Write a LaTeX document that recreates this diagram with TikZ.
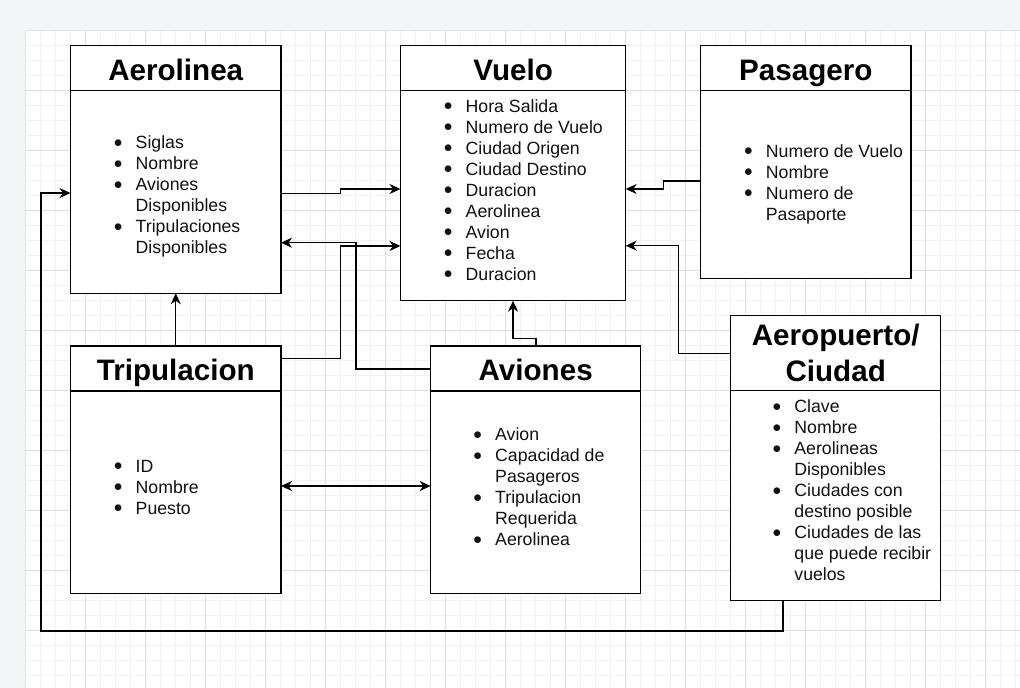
\documentclass[tikz,border=0pt]{standalone}
\usepackage{fontspec}
\setmainfont{Liberation Sans}
\usetikzlibrary{arrows.meta}
\definecolor{pagebg}{HTML}{F4F5F7}
\definecolor{gridminor}{HTML}{F1F1F1}
\definecolor{gridmajor}{HTML}{DEDEDE}
\definecolor{canvasedge}{HTML}{E2E3E6}
\definecolor{txt}{HTML}{111111}
\newcommand{\bl}{\makebox[10pt]{\raisebox{1.5pt}{$\bullet$}}}
\begin{document}
\begin{tikzpicture}[x=1pt,y=-1pt,
  box/.style={draw=black, fill=white, line width=1.3pt, inner sep=0pt, outer sep=0pt},
  hdr/.style={draw=black, line width=1.3pt},
  title/.style={font=\bfseries\fontsize{29.6}{36}\selectfont, text=black, inner sep=0pt},
  lst/.style={font=\fontsize{17.7}{21}\selectfont, text=txt, inner sep=0pt, anchor=base west},
  conn/.style={draw=black, line width=1.3pt, -{Stealth[length=11pt,width=10pt,inset=3.5pt]}},
  biconn/.style={draw=black, line width=1.3pt, {Stealth[length=11pt,width=10pt,inset=3.5pt]}-{Stealth[length=11pt,width=10pt,inset=3.5pt]}}
]
% page and canvas
\fill[pagebg] (0,0) rectangle (1020,688);
\useasboundingbox (0,0) rectangle (1020,688);
\fill[white] (25,30) rectangle (1020,688);
\foreach \i in {1,...,66} {\draw[gridminor, line width=1pt] ({25+15*\i},30) -- ({25+15*\i},688);}
\foreach \j in {1,...,43} {\draw[gridminor, line width=1pt] (25,{30+15*\j}) -- (1020,{30+15*\j});}
\foreach \i in {1,...,16} {\draw[gridmajor, line width=1pt] ({25+60*\i},30) -- ({25+60*\i},688);}
\foreach \j in {1,...,10} {\draw[gridmajor, line width=1pt] (25,{30+60*\j}) -- (1020,{30+60*\j});}
\draw[canvasedge, line width=1pt] (25,688) -- (25,30) -- (1020,30);

% boxes
\node[box, minimum width=210.5pt, minimum height=247.5pt] (aero) at (175.75,169.5) {};
\node[box, minimum width=225.2pt, minimum height=255.2pt] (vuelo) at (513.1,173.1) {};
\node[box, minimum width=210.3pt, minimum height=232.8pt] (pasa) at (805.85,161.9) {};
\node[box, minimum width=210.5pt, minimum height=247.3pt] (trip) at (175.75,469.65) {};
\node[box, minimum width=210pt, minimum height=247.3pt] (avio) at (535.7,469.65) {};
\node[box, minimum width=210pt, minimum height=285pt] (aerop) at (835.7,458.2) {};

% header lines
\draw[hdr] (aero.west |- 0,90.5) -- (aero.east |- 0,90.5);
\draw[hdr] (vuelo.west |- 0,90.5) -- (vuelo.east |- 0,90.5);
\draw[hdr] (pasa.west |- 0,90.5) -- (pasa.east |- 0,90.5);
\draw[hdr] (trip.west |- 0,391) -- (trip.east |- 0,391);
\draw[hdr] (avio.west |- 0,391) -- (avio.east |- 0,391);
\draw[hdr] (aerop.west |- 0,390.7) -- (aerop.east |- 0,390.7);

% titles
\node[title, anchor=base] (aeroT) at (175.75,80) {Aerolinea};
\node[title, anchor=base] (vueloT) at (513.1,80) {Vuelo};
\node[title, anchor=base] (pasaT) at (805.85,80) {Pasagero};
\node[title, anchor=base] (tripT) at (175.75,380) {Tripulacion};
\node[title, anchor=base] (avioT) at (535.7,380) {Aviones};
\node[title, anchor=base] (aeropT) at (835.7,345.7) {\begin{tabular}[t]{@{}c@{}}Aeropuerto/\\Ciudad\end{tabular}};

% lists
\node[lst] (aeroL) at (113,148.5) {\begin{tabular}[t]{@{}c@{\hspace{12.5pt}}l@{}}
\bl & Siglas\\ \bl & Nombre\\ \bl & Aviones\\ & Disponibles\\ \bl & Tripulaciones\\ & Disponibles\end{tabular}};
\node[lst] (vueloL) at (443,112.3) {\begin{tabular}[t]{@{}c@{\hspace{12.5pt}}l@{}}
\bl & Hora Salida\\ \bl & Numero de Vuelo\\ \bl & Ciudad Origen\\ \bl & Ciudad Destino\\ \bl & Duracion\\ \bl & Aerolinea\\ \bl & Avion\\ \bl & Fecha\\ \bl & Duracion\end{tabular}};
\node[lst] (pasaL) at (743.2,157) {\begin{tabular}[t]{@{}c@{\hspace{12.5pt}}l@{}}
\bl & Numero de Vuelo\\ \bl & Nombre\\ \bl & Numero de\\ & Pasaporte\end{tabular}};
\node[lst] (tripL) at (113,472) {\begin{tabular}[t]{@{}c@{\hspace{12.5pt}}l@{}}
\bl & ID\\ \bl & Nombre\\ \bl & Puesto\end{tabular}};
\node[lst] (avioL) at (472.5,440.5) {\begin{tabular}[t]{@{}c@{\hspace{12.5pt}}l@{}}
\bl & Avion\\ \bl & Capacidad de\\ & Pasageros\\ \bl & Tripulacion\\ & Requerida\\ \bl & Aerolinea\end{tabular}};
\node[lst] (aeropL) at (771.7,412.5) {\begin{tabular}[t]{@{}c@{\hspace{12.5pt}}l@{}}
\bl & Clave\\ \bl & Nombre\\ \bl & Aerolineas\\ & Disponibles\\ \bl & Ciudades con\\ & destino posible\\ \bl & Ciudades de las\\ & que puede recibir\\ & vuelos\end{tabular}};

% connectors
\draw[conn] (aero.east |- 0,193.3) -- (340.7,193.3) -- (340.7,189) -- (vuelo.west |- 0,189);
\draw[conn] (avio.west |- 0,369) -- (356,369) -- (356,242.7) -- (aero.east |- 0,242.7);
\draw[conn] (trip.east |- 0,358.3) -- (340.7,358.3) -- (340.7,246) -- (vuelo.west |- 0,246);
\draw[conn] (pasa.west |- 0,181) -- (663.3,181) -- (663.3,189) -- (vuelo.east |- 0,189);
\draw[conn] (aerop.west |- 0,353.3) -- (678.3,353.3) -- (678.3,245.7) -- (vuelo.east |- 0,245.7);
\draw[conn] (avio.north -| 536,0) -- (536,338.7) -- (513,338.7) -- (vuelo.south -| 513,0);
\draw[conn] (trip.north) -- (aero.south);
\draw[biconn] (trip.east |- 0,486) -- (avio.west |- 0,486);
\draw[conn] (aerop.south -| 783,0) -- (783,631) -- (41,631) -- (41,193) -- (aero.west |- 0,193);
\end{tikzpicture}
\end{document}
